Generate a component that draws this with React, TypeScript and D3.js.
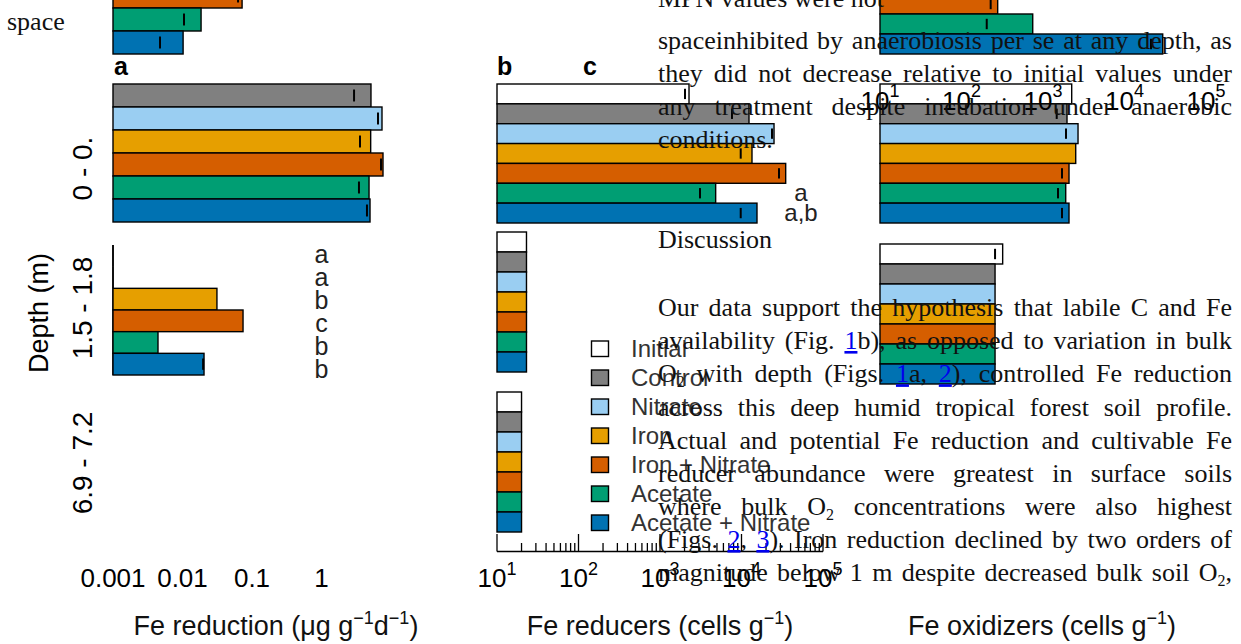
import React, { useEffect, useRef } from "react";
import * as d3 from "d3";

const W = 1241;
const H = 644;

// ---------- data ----------
const treatments = ["Initial", "Control", "Nitrate", "Iron", "Iron + Nitrate", "Acetate", "Acetate + Nitrate"];
const treatColors = ["#ffffff", "#808080", "#9ACEF2", "#E69F00", "#D55E00", "#009E73", "#0072B2"];

// Panel a: Fe reduction (ug g-1 d-1) - no "Initial" treatment
const reductionTreatIdx = [1, 2, 3, 4, 5, 6];
const reductionRowAbove = [null, null, null, 0.072, 0.0185, 0.0102];
const reductionRowAboveErr = [null, null, null, 0.063, 0.0105, 0.00475];
const reductionSurface = [5.15, 7.42, 5.1, 7.67, 4.83, 4.99];
const reductionSurfaceErr = [2.94, 6.5, 3.58, 7.18, 3.46, 4.51];
const reductionMid = [0.001, 0.001, 0.0313, 0.0743, 0.00444, 0.0204];
const reductionMidErr = [null, null, null, null, null, 0.0198];
const reductionMidLetters = ["a", "a", "b", "c", "b", "b"];
const reductionTicks = [0.001, 0.01, 0.1, 1];
const reductionTickLabels = ["0.001", "0.01", "0.1", "1"];

// Panel b: Fe reducers (cells g-1)
const reducersSurface = [2270, 12360, 25060, 13450, 34850, 4820, 15490];
const reducersSurfaceErr = [2027, 7640, 23680, 9780, 28840, 3095, 9780];
const reducersSurfaceLetters = ["", "", "", "", "", "a", "a,b"];
const reducersMid = [23, 23, 23, 23, 23, 23, 23];
const reducersDeep = [20, 20, 20, 20, 20, 20, 20];

// Panel c: Fe oxidizers (cells g-1)
const oxidizersRowAbove = [null, null, null, null, 278, 748, 29440];
const oxidizersRowAboveErr = [null, null, null, null, 228, 204, 21150];
const oxidizersSurface = [2250, 1970, 2690, 2520, 2085, 1900, 2085];
const oxidizersSurfaceErr = [null, 1473, 1915, null, 1710, 1528, 1710];
const oxidizersMid = [320, 258, 258, 258, 258, 258, 258];
const oxidizersMidErr = [258, null, null, null, null, null, null];

const cellTickExponents = [1, 2, 3, 4, 5];
const depthLabels = ["0 - 0.", "1.5 - 1.8", "6.9 - 7.2"];
const panelLetters = ["a", "b", "c"];

const articleLines = [
  "MPN values were not",
  "spaceinhibited by anaerobiosis per se at any depth, as",
  "they did not decrease relative to initial values under",
  "any treatment despite incubation under anaerobic",
  "conditions.",
  "Discussion",
  "Our data support the hypothesis that labile C and Fe",
  "availability (Fig. [1]b), as opposed to variation in bulk",
  "O~2 with depth (Figs. [1]a, [2]), controlled Fe reduction",
  "across this deep humid tropical forest soil profile.",
  "Actual and potential Fe reduction and cultivable Fe",
  "reducer abundance were greatest in surface soils",
  "where bulk O~2 concentrations were also highest",
  "(Figs. [2], [3]). Iron reduction declined by two orders of",
  "magnitude below 1 m despite decreased bulk soil O~2,",
];
const articleJustified = [false, true, true, true, false, false, true, true, true, true, true, true, true, true, true];

// ---------- styles ----------
const sans = "'Liberation Sans', Arial, Helvetica, sans-serif";
const serif = "'Liberation Serif', 'Times New Roman', Times, serif";

type Seg = { t: string; link?: boolean; sub?: boolean };
function parseWord(w: string): Seg[] {
  const segs: Seg[] = [];
  const re = /\[([^\]]+)\]|~(\w)|([^\[~]+)/g;
  let m: RegExpExecArray | null;
  while ((m = re.exec(w))) {
    if (m[1]) segs.push({ t: m[1], link: true });
    else if (m[2]) segs.push({ t: m[2], sub: true });
    else segs.push({ t: m[3] });
  }
  return segs;
}

type RowProps = {
  values: (number | null)[];
  errs: (number | null)[];
  colors: string[];
  x: d3.ScaleLogarithmic<number, number>;
  top: number;
  bottom: number;
};

function BarRow({ values, errs, colors, x, top, bottom }: RowProps) {
  const y = d3.scaleBand<number>().domain(d3.range(values.length)).range([top, bottom]).paddingInner(0);
  const x0 = x(x.domain()[0]);
  return (
    <g>
      {values.map((v, i) => {
        if (v == null) return null;
        const yy = y(i)!;
        const h = y.bandwidth();
        const w = x(v) - x0;
        if (w < 1) {
          return <line key={i} x1={x0} x2={x0} y1={yy} y2={yy + h} stroke="#000" strokeWidth={1.5} />;
        }
        return (
          <rect key={i} x={x0} y={yy} width={w} height={h} fill={colors[i]} stroke="#000" strokeWidth={1.4} />
        );
      })}
      {errs.map((e, i) => {
        if (e == null) return null;
        const yy = y(i)!;
        const h = y.bandwidth();
        return (
          <line key={"e" + i} x1={x(e)} x2={x(e)} y1={yy + h * 0.24} y2={yy + h * 0.76} stroke="#000" strokeWidth={2} />
        );
      })}
    </g>
  );
}

export default function App() {
  const textRef = useRef<SVGGElement>(null);

  // scales
  const xA = d3.scaleLog().domain([0.001, 1]).range([113, 321.5]);
  const xB = d3.scaleLog().domain([10, 1e5]).range([497, 823]);
  const xC = d3.scaleLog().domain([10, 1e5]).range([880, 1206]);

  const redColors = reductionTreatIdx.map((i) => treatColors[i]);

  const articleBaselines = [7, 48.5, 81.8, 115, 148.3, 248, 316, 349, 382.3, 415.5, 448.7, 482, 515, 548, 581];
  const LEFT = 658;
  const RIGHT = 1232;

  useEffect(() => {
    const g = d3.select(textRef.current);
    g.selectAll("*").remove();
    articleLines.forEach((line, i) => {
      const words = line.split(" ").map(parseWord);
      const nodes = words.map((segs) => {
        const t = g
          .append("text")
          .attr("y", articleBaselines[i])
          .attr("font-family", serif)
          .attr("font-size", 26)
          .attr("fill", "#111");
        let shifted = false;
        segs.forEach((s) => {
          const ts = t.append("tspan").text(s.t);
          if (s.sub) {
            ts.attr("font-size", 16).attr("dy", 5);
            shifted = true;
          } else if (shifted) {
            ts.attr("dy", -5);
            shifted = false;
          }
          if (s.link) ts.attr("fill", "#0000EE").attr("text-decoration", "underline");
        });
        return t;
      });
      const widths = nodes.map((n) => (n.node() as SVGTextElement).getComputedTextLength());
      const total = d3.sum(widths);
      const gap =
        articleJustified[i] && words.length > 1 ? (RIGHT - LEFT - total) / (words.length - 1) : 26 * 0.25;
      let xx = LEFT;
      nodes.forEach((n, j) => {
        n.attr("x", xx);
        xx += widths[j] + gap;
      });
    });
  }, []);

  // minor ticks for panel b axis
  const minorTicks: number[] = [];
  for (let k = 1; k <= 4; k++) for (let m = 2; m <= 9; m++) minorTicks.push(m * Math.pow(10, k));

  const legendTop = 341;
  const legendStep = 29;

  // significance letters for panel a middle row sit on a slightly taller grid than the bars
  const letterY = d3.scaleBand<number>().domain(d3.range(6)).range([245, 382]);
  const letterYb = d3.scaleBand<number>().domain(d3.range(7)).range([84, 223]);

  return (
    <div style={{ position: "absolute", left: 0, top: 0, width: W, height: H, background: "#fff" }}>
      <svg width={W} height={H} style={{ display: "block" }}>
        <rect x={0} y={0} width={W} height={H} fill="#fff" />

        {/* stray text at left */}
        <text x={7} y={30} fontFamily={serif} fontSize={26} fill="#111">space</text>

        {/* panel letters */}
        <g fontFamily={sans} fontWeight="bold" fontSize={25} fill="#000">
          <text x={114} y={75}>{panelLetters[0]}</text>
          <text x={497} y={75}>{panelLetters[1]}</text>
          <text x={583} y={75}>{panelLetters[2]}</text>
        </g>

        {/* Panel a */}
        <BarRow values={reductionRowAbove} errs={reductionRowAboveErr} colors={redColors} x={xA} top={-84} bottom={54} />
        <BarRow values={reductionSurface} errs={reductionSurfaceErr} colors={redColors} x={xA} top={84} bottom={222} />
        <line x1={xA(0.001)} x2={xA(0.001)} y1={245} y2={375} stroke="#000" strokeWidth={1.5} />
        <BarRow values={reductionMid} errs={reductionMidErr} colors={redColors} x={xA} top={245} bottom={375} />
        <g fontFamily={sans} fontSize={25} fill="#222" textAnchor="middle">
          {reductionMidLetters.map((l, i) => (
            <text key={i} x={xA(1)} y={letterY(i)! + letterY.bandwidth() / 2 + 7}>{l}</text>
          ))}
        </g>
        <g fontFamily={sans} fontSize={26} fill="#000" textAnchor="middle">
          {reductionTicks.map((t, i) => (
            <text key={i} x={xA(t)} y={587}>{reductionTickLabels[i]}</text>
          ))}
        </g>

        {/* depth labels */}
        <g fontFamily={sans} fontSize={28} fill="#000" textAnchor="middle">
          <text transform="translate(92,168.5) rotate(-90)">{depthLabels[0]}</text>
          <text transform="translate(92,308) rotate(-90)">{depthLabels[1]}</text>
          <text transform="translate(92,463) rotate(-90)">{depthLabels[2]}</text>
          <text transform="translate(48,313) rotate(-90)" fontSize={27}>Depth (m)</text>
        </g>

        {/* Panel b */}
        <BarRow values={reducersSurface} errs={reducersSurfaceErr} colors={treatColors} x={xB} top={84} bottom={223} />
        <BarRow values={reducersMid} errs={reducersMid.map(() => null)} colors={treatColors} x={xB} top={232} bottom={372} />
        <BarRow values={reducersDeep} errs={reducersDeep.map(() => null)} colors={treatColors} x={xB} top={392} bottom={532} />
        <g fontFamily={sans} fontSize={24} fill="#222" textAnchor="middle">
          {reducersSurfaceLetters.map((l, i) =>
            l ? (
              <text key={i} x={801} y={letterYb(i)! + letterYb.bandwidth() / 2 + 8}>{l}</text>
            ) : null
          )}
        </g>
        {/* panel b axis */}
        <g stroke="#000" strokeWidth={1.3}>
          <line x1={xB(10)} x2={xB(1e5)} y1={551.5} y2={551.5} />
          {cellTickExponents.map((k) => (
            <line key={k} x1={xB(Math.pow(10, k))} x2={xB(Math.pow(10, k))} y1={534} y2={551.5} />
          ))}
          {minorTicks.map((t, i) => (
            <line key={"m" + i} x1={xB(t)} x2={xB(t)} y1={543} y2={551.5} />
          ))}
        </g>
        <g fontFamily={sans} fontSize={26} fill="#000" textAnchor="middle">
          {cellTickExponents.map((k) => (
            <text key={k} x={xB(Math.pow(10, k))} y={587}>
              10<tspan dy={-12} fontSize={18}>{k}</tspan>
            </text>
          ))}
        </g>

        {/* Panel c */}
        <BarRow values={oxidizersRowAbove} errs={oxidizersRowAboveErr} colors={treatColors} x={xC} top={-86} bottom={54} />
        <BarRow values={oxidizersSurface} errs={oxidizersSurfaceErr} colors={treatColors} x={xC} top={84} bottom={223} />
        <BarRow values={oxidizersMid} errs={oxidizersMidErr} colors={treatColors} x={xC} top={244} bottom={384} />
        <g fontFamily={sans} fontSize={26} fill="#000" textAnchor="middle">
          {cellTickExponents.map((k) => (
            <text key={k} x={xC(Math.pow(10, k))} y={110}>
              10<tspan dy={-13} fontSize={18}>{k}</tspan>
            </text>
          ))}
        </g>

        {/* legend */}
        <g fontFamily={sans} fontSize={24} fill="#333">
          {treatments.map((t, i) => (
            <g key={t}>
              <rect x={591.5} y={legendTop + i * legendStep} width={17} height={15.5} fill={treatColors[i]} stroke="#000" strokeWidth={1.4} />
              <text x={631} y={legendTop + i * legendStep + 16}>{t}</text>
            </g>
          ))}
        </g>

        {/* axis titles */}
        <g fontFamily={sans} fontSize={27} fill="#111" textAnchor="middle">
          <text x={276} y={635}>
            Fe reduction (μg g<tspan dy={-11} fontSize={18}>−1</tspan>
            <tspan dy={11}>d</tspan>
            <tspan dy={-11} fontSize={18}>−1</tspan>
            <tspan dy={11}>)</tspan>
          </text>
          <text x={660} y={635}>
            Fe reducers (cells g<tspan dy={-11} fontSize={18}>−1</tspan>
            <tspan dy={11}>)</tspan>
          </text>
          <text x={1042} y={635}>
            Fe oxidizers (cells g<tspan dy={-11} fontSize={18}>−1</tspan>
            <tspan dy={11}>)</tspan>
          </text>
        </g>

        {/* article text overlay */}
        <g ref={textRef} />
      </svg>
    </div>
  );
}
